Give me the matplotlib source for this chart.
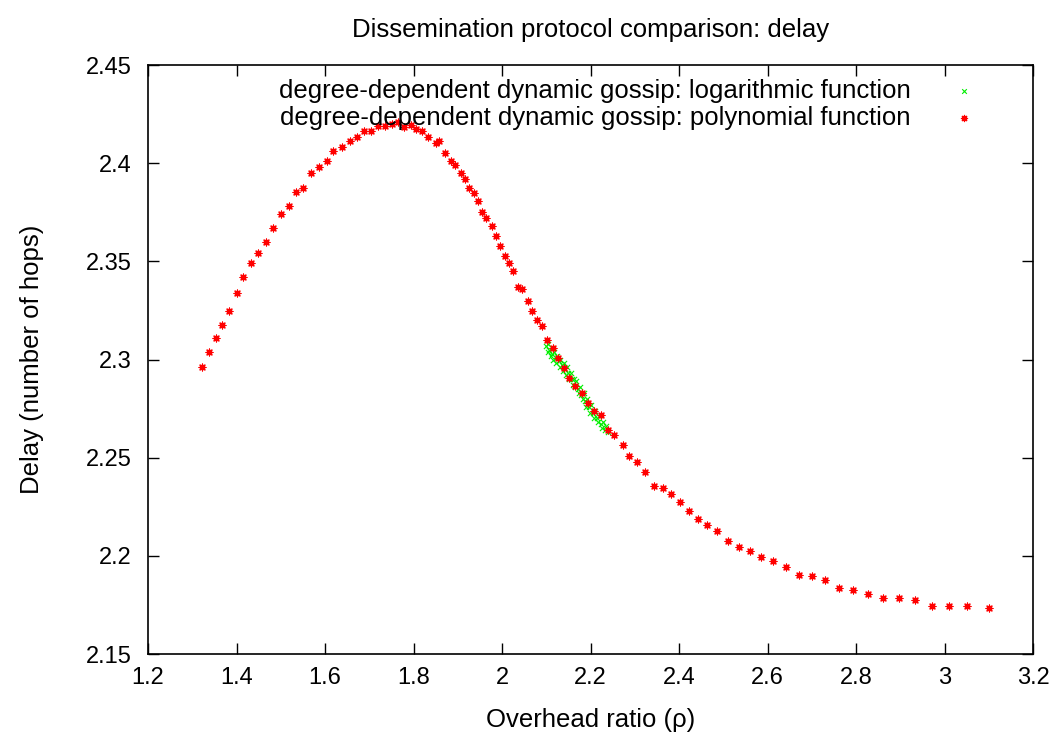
import matplotlib
matplotlib.use('Agg')
import matplotlib.pyplot as plt

plt.rcParams['font.family'] = ['Liberation Sans', 'DejaVu Sans']

# polynomial function (red)
poly_x = [1.3227, 1.3372, 1.3537, 1.3672, 1.3824, 1.4011, 1.4147, 1.4328, 1.4486, 1.4667,
          1.4832, 1.5006, 1.5180, 1.5345, 1.5510, 1.5684, 1.5864, 1.6052, 1.6188, 1.6384,
          1.6565, 1.6730, 1.6881, 1.7040, 1.7204, 1.7356, 1.7507, 1.7650, 1.7792, 1.7937,
          1.8063, 1.8185, 1.8321, 1.8502, 1.8583, 1.8719, 1.8847, 1.8938, 1.9067, 1.9171,
          1.9254, 1.9356, 1.9458, 1.9555, 1.9645, 1.9767, 1.9858, 1.9962, 2.0061, 2.0158,
          2.0249, 2.0355, 2.0452, 2.0581, 2.0671, 2.0798, 2.0897, 2.1024, 2.1146, 2.1261,
          2.1394, 2.1521, 2.1643, 2.1801, 2.1937, 2.2086, 2.2231, 2.2384, 2.2531, 2.2728,
          2.2870, 2.3051, 2.3238, 2.3435, 2.3632, 2.3812, 2.4016, 2.4219, 2.4429, 2.4639,
          2.4859, 2.5114, 2.5363, 2.5611, 2.5860, 2.6124, 2.6411, 2.6712, 2.6999, 2.7306,
          2.7609, 2.7932, 2.8271, 2.8610, 2.8979, 2.9333, 2.9711, 3.0102, 3.0515, 3.0999]
poly_y = [2.2960, 2.3040, 2.3108, 2.3177, 2.3248, 2.3340, 2.3419, 2.3490, 2.3541, 2.3598,
          2.3668, 2.3739, 2.3780, 2.3851, 2.3872, 2.3951, 2.3980, 2.4011, 2.4062, 2.4081,
          2.4111, 2.4132, 2.4162, 2.4162, 2.4189, 2.4189, 2.4199, 2.4210, 2.4183, 2.4193,
          2.4172, 2.4162, 2.4132, 2.4101, 2.4111, 2.4050, 2.4012, 2.3991, 2.3951, 2.3921,
          2.3872, 2.3850, 2.3809, 2.3750, 2.3719, 2.3680, 2.3629, 2.3579, 2.3529, 2.3490,
          2.3449, 2.3369, 2.3359, 2.3299, 2.3248, 2.3199, 2.3169, 2.3098, 2.3061, 2.3009,
          2.2958, 2.2908, 2.2867, 2.2827, 2.2779, 2.2737, 2.2716, 2.2640, 2.2615, 2.2566,
          2.2508, 2.2476, 2.2427, 2.2355, 2.2345, 2.2316, 2.2275, 2.2226, 2.2186, 2.2155,
          2.2126, 2.2075, 2.2045, 2.2026, 2.1994, 2.1975, 2.1944, 2.1903, 2.1895, 2.1875,
          2.1834, 2.1824, 2.1804, 2.1783, 2.1783, 2.1773, 2.1746, 2.1746, 2.1746, 2.1732]

# logarithmic function (green)
log_x = [2.100, 2.103, 2.105, 2.107, 2.110, 2.112, 2.114, 2.116, 2.118, 2.121,
         2.123, 2.125, 2.128, 2.130, 2.132, 2.135, 2.137, 2.140, 2.142, 2.145,
         2.147, 2.150, 2.152, 2.155, 2.158, 2.160, 2.163, 2.165, 2.168, 2.171,
         2.174, 2.176, 2.179, 2.182, 2.185, 2.188, 2.190, 2.193, 2.196, 2.199,
         2.202, 2.205, 2.208, 2.211, 2.214, 2.217, 2.220, 2.223, 2.226, 2.229,
         2.232, 2.236, 2.240]
log_y = [2.307, 2.304, 2.308, 2.305, 2.302, 2.306, 2.303, 2.300, 2.304, 2.301,
         2.298, 2.302, 2.299, 2.296, 2.300, 2.297, 2.294, 2.298, 2.295, 2.292,
         2.296, 2.293, 2.290, 2.293, 2.290, 2.287, 2.290, 2.286, 2.289, 2.285,
         2.283, 2.286, 2.282, 2.280, 2.283, 2.279, 2.276, 2.280, 2.276, 2.273,
         2.277, 2.273, 2.270, 2.274, 2.270, 2.268, 2.271, 2.267, 2.265, 2.268,
         2.264, 2.266, 2.263]

x_ticks = [1.2, 1.4, 1.6, 1.8, 2.0, 2.2, 2.4, 2.6, 2.8, 3.0, 3.2]
x_labels = ['1.2', '1.4', '1.6', '1.8', '2', '2.2', '2.4', '2.6', '2.8', '3', '3.2']
y_ticks = [2.15, 2.2, 2.25, 2.3, 2.35, 2.4, 2.45]
y_labels = ['2.15', '2.2', '2.25', '2.3', '2.35', '2.4', '2.45']

fig = plt.figure(figsize=(10.62, 7.38), dpi=100)
ax = fig.add_axes([0.1394, 0.1138, 0.8333, 0.7981])

ax.scatter(log_x, log_y, marker='x', s=14, color='#00ee00', linewidths=0.8,
           label='degree-dependent dynamic gossip: logarithmic function', zorder=2)
ax.scatter(poly_x, poly_y, marker=(8, 2, 0), s=24, color='#ff0000', linewidths=0.9,
           label='degree-dependent dynamic gossip: polynomial function', zorder=3)

ax.set_xlim(1.2, 3.2)
ax.set_ylim(2.15, 2.45)
ax.set_xticks(x_ticks)
ax.set_xticklabels(x_labels)
ax.set_yticks(y_ticks)
ax.set_yticklabels(y_labels)
ax.tick_params(direction='in', length=8, width=1, top=True, right=True, labelsize=17)
ax.tick_params(axis='x', pad=9)
ax.tick_params(axis='y', pad=12)
for s in ax.spines.values():
    s.set_linewidth(1.2)

ax.set_xlabel('Overhead ratio (ρ)', fontsize=18.5, labelpad=14)
ax.set_ylabel('Delay (number of hops)', fontsize=18.5, labelpad=30)
ax.set_title('Dissemination protocol comparison: delay', fontsize=18.5, pad=20)

ax.legend(loc='upper right', bbox_to_anchor=(0.937, 0.9765), markerfirst=False,
          frameon=False, fontsize=18.5, handlelength=1, handletextpad=1.6,
          labelspacing=0.13, borderpad=0, borderaxespad=0,
          scatterpoints=1, markerscale=0.9)

fig.savefig('out.png', dpi=100)
